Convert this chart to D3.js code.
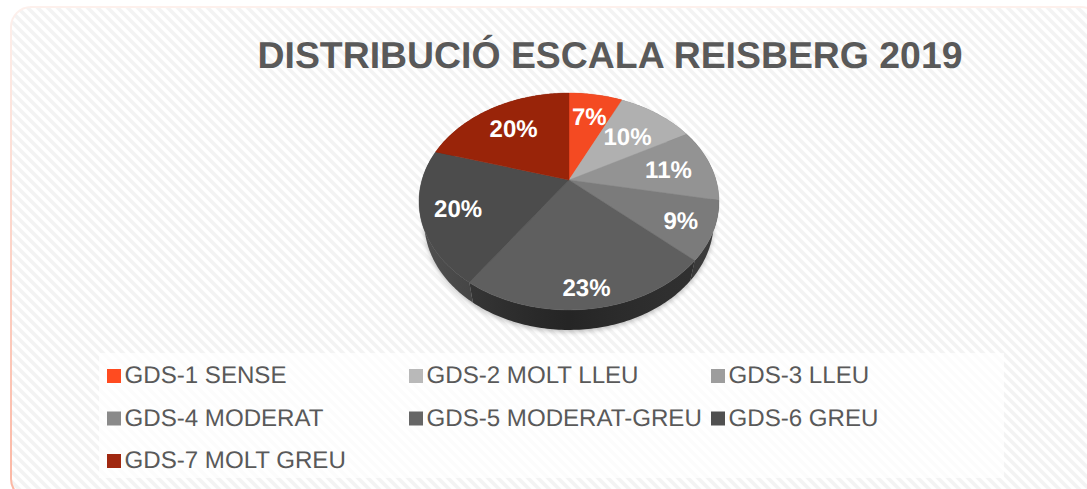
<!DOCTYPE html>
<html><head><meta charset="utf-8">
<script src="https://cdn.jsdelivr.net/npm/d3@7/dist/d3.min.js"></script>
<style>html,body{margin:0;padding:0;background:#fff}svg{display:block}text{font-family:"Liberation Sans",Arial,sans-serif;text-rendering:geometricPrecision}</style>
</head><body>
<svg id="c" width="1087" height="489"></svg>
<script>
const categories = ["GDS-1 SENSE","GDS-2 MOLT LLEU","GDS-3 LLEU","GDS-4 MODERAT","GDS-5 MODERAT-GREU","GDS-6 GREU","GDS-7 MOLT GREU"];
const values = [7,10,11,8.7,22.9,20,20.4];
const topColors = ["#f44a22","#b0b0b0","#939393","#7b7b7b","#5f5f5f","#4c4c4c","#992409"];
const legendColors = ["#ff4b20","#b9b9b9","#9d9d9d","#8a8a8a","#666666","#505050","#a02810"];
const sideColors = ["#a83216","#7a7a7a","#666666","#333333","#282828","#3a3a3a","#6b1906"];
const title = "DISTRIBUCIÓ ESCALA REISBERG 2019";

const svg = d3.select("#c");
const defs = svg.append("defs");
const hatch = defs.append("pattern").attr("id","hatch").attr("patternUnits","userSpaceOnUse").attr("width",10).attr("height",10);
hatch.append("rect").attr("width",10).attr("height",10).attr("fill","#fff");
hatch.append("path").attr("stroke","#f3f3f3").attr("stroke-width",3.6).attr("d","M-5,-5 L15,15 M5,-5 L15,5 M-5,5 L5,15");
const blur = defs.append("filter").attr("id","sh").attr("x","-20%").attr("y","-20%").attr("width","140%").attr("height","140%");
blur.append("feGaussianBlur").attr("stdDeviation",2.5);
const grad = defs.append("linearGradient").attr("id","sg").attr("x1","0").attr("x2","1");
grad.append("stop").attr("offset","0").attr("stop-color","#fff").attr("stop-opacity",.12);
grad.append("stop").attr("offset",".5").attr("stop-color","#000").attr("stop-opacity",.08);
grad.append("stop").attr("offset","1").attr("stop-color","#fff").attr("stop-opacity",.04);

// frame
const frameG = defs.append("linearGradient").attr("id","fr").attr("x1","0").attr("y1","0").attr("x2","0").attr("y2","1");
frameG.append("stop").attr("offset","0").attr("stop-color","#fdf0ec");
frameG.append("stop").attr("offset","1").attr("stop-color","#fbb6a2");
svg.append("rect").attr("x",11).attr("y",7).attr("width",1090).attr("height",492).attr("rx",20)
  .attr("fill","url(#hatch)").attr("stroke","url(#fr)").attr("stroke-width",2);

// title
svg.append("text").attr("x",610).attr("y",67.5).attr("text-anchor","middle").attr("font-size",37.4).attr("font-weight","bold").attr("fill","#595959").text(title);

// pie geometry
const cx=569, cy=180, R=147, S=104.2, k=-0.198, depth=20, rim=0.965;
const pie = d3.pie().sort(null).value(d=>d)(values);
const proj = (a,r)=>{const X=Math.sin(a)*r,Y=-Math.cos(a)*r,w=1+k*Y;return [cx+R*X/w,cy+S*Y/w];};
const low = p=>[cx+(p[0]-cx)*rim,p[1]+depth];
const line = d3.line();
const samples = (a0,a1)=>{const n=Math.max(2,Math.ceil((a1-a0)*60));return d3.range(n+1).map(i=>a0+(a1-a0)*i/n);};

// soft shadow
const all = samples(0,2*Math.PI).map(a=>{const p=low(proj(a,1));return [p[0],p[1]+2];});
svg.append("path").attr("d",line(all)+"Z").attr("fill","#000").attr("opacity",.25).attr("filter","url(#sh)");

// side wall
const wall = (a0,a1)=>{const pts=samples(a0,a1).map(a=>proj(a,1));
  return line(pts.concat(pts.slice().reverse().map(low)))+"Z";};
svg.append("g").selectAll("path").data(pie).join("path").attr("d",d=>wall(d.startAngle,d.endAngle)).attr("fill",(d,i)=>sideColors[i]);
svg.append("path").attr("d",wall(Math.PI/2,3*Math.PI/2)).attr("fill","url(#sg)");

// top
svg.append("g").selectAll("path").data(pie).join("path")
  .attr("d",d=>line([[cx,cy]].concat(samples(d.startAngle,d.endAngle).map(a=>proj(a,1))))+"Z")
  .attr("fill",(d,i)=>topColors[i]).attr("stroke",(d,i)=>topColors[i]).attr("stroke-width",.4);

// labels
const labelRadius=[.72,.635,.70,.79,.855,.76,.70];
const pct=d3.format(".0f");
svg.append("g").selectAll("text").data(pie).join("text")
  .attr("x",(d,i)=>proj((d.startAngle+d.endAngle)/2,labelRadius[i])[0])
  .attr("y",(d,i)=>proj((d.startAngle+d.endAngle)/2,labelRadius[i])[1]+9.5)
  .attr("text-anchor","middle").attr("font-size",24).attr("font-weight","bold").attr("fill","#fff")
  .text(d=>pct(d.data)+"%");

// legend
svg.append("rect").attr("x",99).attr("y",353).attr("width",905).attr("height",125).attr("fill","#fff").attr("opacity",.72);
const colX=d3.scalePoint().domain([0,1,2]).range([107,711]);
const rowY=d3.scalePoint().domain([0,1,2]).range([369,454]);
const lg=svg.append("g").selectAll("g").data(categories).join("g")
  .attr("transform",(d,i)=>`translate(${colX(i%3)},${rowY(Math.floor(i/3))})`);
lg.append("rect").attr("width",14).attr("height",14).attr("fill",(d,i)=>legendColors[i]);
lg.append("text").attr("x",17.5).attr("y",14).attr("font-size",24.1).attr("fill","#595959").text(d=>d);
</script>
</body></html>
